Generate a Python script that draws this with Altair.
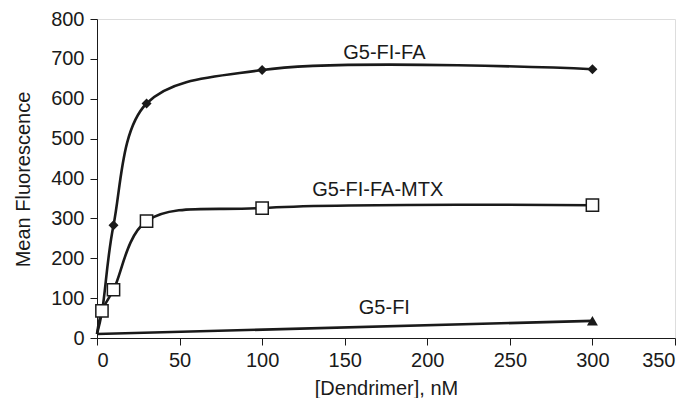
import altair as alt
import pandas as pd

# ---- data ----
conc_fa = [0, 3, 10, 30, 100, 300]
fl_fa = [10, 65, 283, 588, 672, 674]
mark_fa = [False, True, True, True, True, True]

conc_mtx = [0, 3, 10, 30, 100, 300]
fl_mtx = [10, 68, 121, 293, 326, 333]
mark_mtx = [False, True, True, True, True, True]

conc_fi = [0, 300]
fl_fi = [10, 43]
mark_fi = [False, True]

label_names = ["G5-FI-FA", "G5-FI-FA-MTX", "G5-FI"]
label_x = [174, 170, 174]
label_y = [714, 371, 75]

x_ticks = [0, 50, 100, 150, 200, 250, 300, 350]
y_ticks = [0, 100, 200, 300, 400, 500, 600, 700, 800]

FONT = "Liberation Sans"
INK = "#1a1a1a"
FS = 20

def frame(name, xs, ys, ms):
    return pd.DataFrame({"series": name, "conc": xs, "fl": ys, "marker": ms})

df_fa = frame("G5-FI-FA", conc_fa, fl_fa, mark_fa)
df_mtx = frame("G5-FI-FA-MTX", conc_mtx, fl_mtx, mark_mtx)
df_fi = frame("G5-FI", conc_fi, fl_fi, mark_fi)
df_lab = pd.DataFrame({"name": label_names, "conc": label_x, "fl": label_y})

xs = alt.Scale(domain=[0, 350], nice=False, zero=False)
ys = alt.Scale(domain=[0, 800], nice=False)

x_enc = alt.X("conc:Q", scale=xs, axis=alt.Axis(
    values=x_ticks, title="[Dendrimer], nM", grid=False, tickSize=7,
    labelPadding=5, titleY=56, titleBaseline="alphabetic",
    domainColor=INK, tickColor=INK,
    labelFont=FONT, labelFontSize=FS, labelColor=INK,
    titleFont=FONT, titleFontSize=FS, titleFontWeight="normal", titleColor=INK))
y_enc = alt.Y("fl:Q", scale=ys, axis=alt.Axis(
    values=y_ticks, title="Mean Fluorescence", grid=False, tickSize=7,
    labelPadding=6, titleX=-74, titleY=160, titleBaseline="middle",
    domainColor=INK, tickColor=INK,
    labelFont=FONT, labelFontSize=FS, labelColor=INK,
    titleFont=FONT, titleFontSize=FS, titleFontWeight="normal", titleColor=INK))

def curve(df, interp):
    return alt.Chart(df).mark_line(color=INK, strokeWidth=2.6, interpolate=interp).encode(
        x=x_enc, y=y_enc, order="conc:Q")

line_fa = curve(df_fa, "catmull-rom")
line_mtx = curve(df_mtx, "catmull-rom")
line_fi = curve(df_fi, "linear")

pts_fa = alt.Chart(df_fa[df_fa.marker]).mark_point(
    shape="diamond", filled=True, color=INK, size=100, opacity=1).encode(x=x_enc, y=y_enc)
pts_mtx = alt.Chart(df_mtx[df_mtx.marker]).mark_point(
    shape="square", filled=True, fill="white", stroke=INK, strokeWidth=1.5,
    size=150, opacity=1).encode(x=x_enc, y=y_enc)
pts_fi = alt.Chart(df_fi[df_fi.marker]).mark_point(
    shape="triangle-up", filled=True, color=INK, size=120, opacity=1).encode(x=x_enc, y=y_enc)

labels = alt.Chart(df_lab).mark_text(
    font=FONT, fontSize=FS, color=INK, align="center", baseline="middle").encode(
    x=x_enc, y=y_enc, text="name:N")

chart = alt.layer(line_fa, line_mtx, line_fi, pts_fa, pts_mtx, pts_fi, labels).properties(
    width=578, height=319,
    autosize=alt.AutoSizeParams(type="none"),
    padding={"left": 89, "top": 11, "right": 12, "bottom": 60},
).configure_view(stroke=INK, strokeWidth=1.2).configure(background="white")

chart.save("out.html", embed_options={"renderer": "svg", "actions": False})
